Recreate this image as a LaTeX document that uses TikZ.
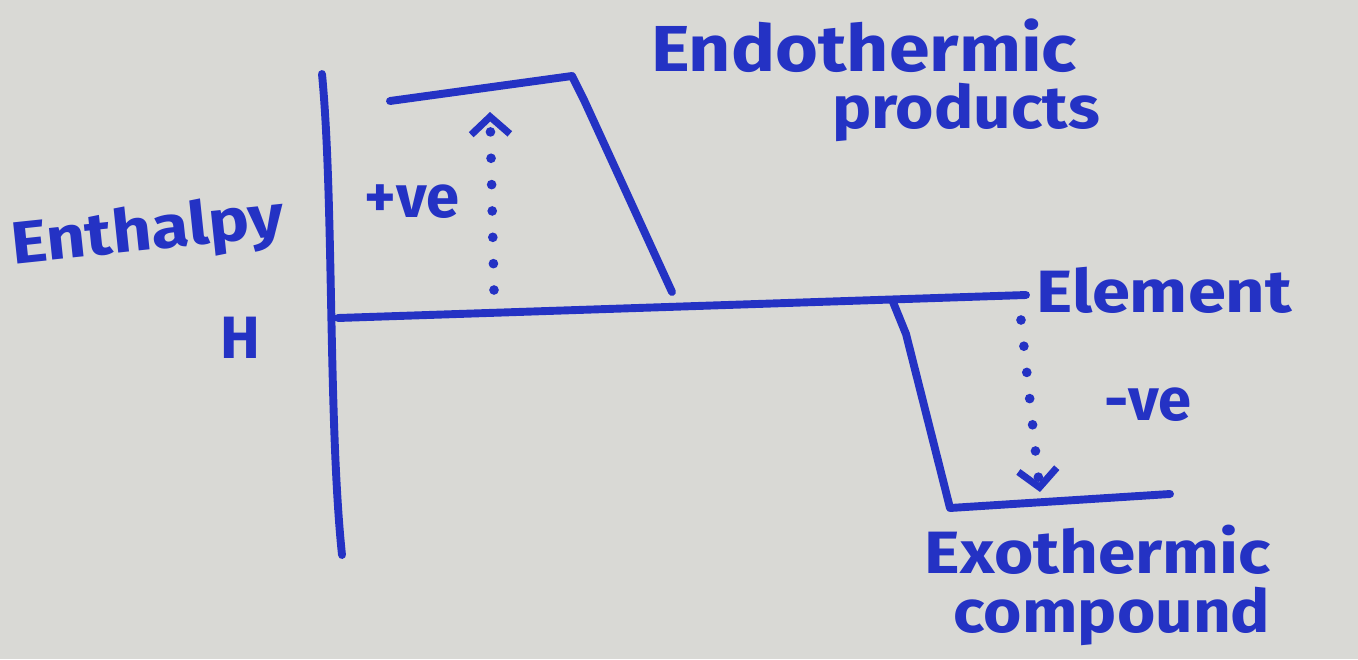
\documentclass[tikz,border=0pt]{standalone}
\usepackage{fontspec}
\setmainfont{Fira Sans}
\usepackage{tikz}
\usetikzlibrary{arrows.meta,positioning,calc}
\usepackage{xcolor}
\definecolor{ink}{HTML}{2432C4}
\definecolor{board}{HTML}{D9D9D5}

\begin{document}
\begin{tikzpicture}[
  x=0.02cm, y=-0.02cm,
  every node/.style={text=ink, inner sep=0pt, font=\fontsize{34}{40}\selectfont\bfseries},
  big/.style={font=\fontsize{37}{44}\selectfont\bfseries},
  level/.style={draw=ink, line width=4.5pt, line cap=round, line join=round},
  change/.style={draw=ink, line width=5.5pt, line cap=round, dash pattern=on 0pt off 15pt, -{Straight Barb[length=10pt, width=22pt, line width=4pt]}}
]
\fill[board] (0,0) rectangle (1358,659);
\useasboundingbox (0,0) rectangle (1358,659);

% axis and levels
\coordinate (axtop) at (322,74);
\coordinate (axbot) at (342,555);
\coordinate (elL) at (338,318);
\coordinate (elR) at (1026,295);
\coordinate (enL) at (390,101);
\coordinate (enR) at (572,76);
\coordinate (enK) at (584,100);
\coordinate (enB) at (672,292);
\coordinate (exT) at (893,302);
\coordinate (exK) at (906,334);
\coordinate (exL) at (950,508);
\coordinate (exR) at (1170,494);

\draw[level] (axtop) .. controls (334,200) and (328,420) .. (axbot);
\draw[level] (elL) -- (elR);
\draw[level] (enL) -- (enR) -- (enK) -- (enB);
\draw[level] (exT) -- (exK) -- (exL) -- (exR);

\coordinate (upS) at (494,290);
\coordinate (upE) at (490,112);
\coordinate (dnS) at (1021,320);
\coordinate (dnE) at (1040,492);
\draw[change] (upS) -- (upE);
\draw[change] (dnS) -- (dnE);

% labels
\node[rotate=6, xscale=1.15] (enthalpy) at (148,234) {Enthalpy};
\node (h) at (240,338) {H};
\node (plus) at (412,202) {+ve};
\node[big, xscale=1.13] (endo) at (864,46) {Endothermic};
\node[xscale=1.1] (prod) at (966,112) {products};
\node[anchor=west, xscale=1.15] (elem) at (1036,290) {Element};
\node (minus) at (1148,405) {-ve};
\node[xscale=1.13] (exo) at (1098,550) {Exothermic};
\node[xscale=1.1] (comp) at (1112,616) {compound};
\end{tikzpicture}
\end{document}
